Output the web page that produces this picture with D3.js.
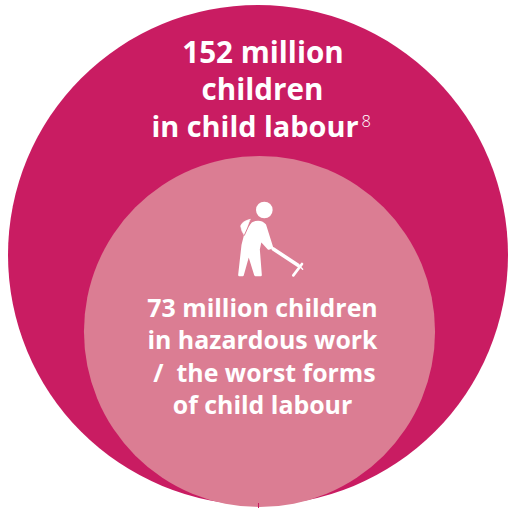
<!DOCTYPE html>
<html><head><meta charset="utf-8"><script src="https://cdn.jsdelivr.net/npm/d3@7"></script>
<style>html,body{margin:0;padding:0;background:#fff}svg{display:block}</style></head><body>
<script>
const groups=["Child labour","Hazardous work"];
const values=[152,73];
const outerLines=["152 million","children","in child labour"];
const innerLines=["73 million children","in hazardous work","/\u00a0\u00a0the worst forms","of child labour"];
const footnote="8";
const svg=d3.select("body").append("svg").attr("width",508).attr("height",508);
const r=d3.scalePow().exponent(0.482).domain([0,152]).range([0,250]);
const colours=d3.scaleOrdinal().domain(groups).range(["#c91c62","#db7d93"]);
svg.append("circle").attr("cx",258).attr("cy",255).attr("r",r(values[0])).attr("fill",colours(groups[0]));
svg.append("circle").attr("cx",259.5).attr("cy",331.5).attr("r",r(values[1])).attr("fill",colours(groups[1]));
svg.append("line").attr("x1",258.5).attr("x2",258.5).attr("y1",503).attr("y2",508).attr("stroke",colours(groups[0])).attr("stroke-width",1);
const font="'Open Sans',sans-serif";
const ty=d3.scalePoint().domain(d3.range(3)).range([63,137]);
const ox=[263,262.5,255];
svg.selectAll(".o").data(outerLines).join("text").attr("x",(d,i)=>ox[i]).attr("y",(d,i)=>ty(i)).attr("text-anchor","middle")
 .attr("font-family",font).attr("font-weight",700).attr("font-size",(d,i)=>i==2?28.9:29.6).attr("fill","#fff").text(d=>d);
svg.append("text").attr("x",361.5).attr("y",127).attr("font-family",font).attr("font-size",16.5).attr("font-weight",300).attr("fill","#fff").text(footnote);
const iy=d3.scalePoint().domain(d3.range(4)).range([317,414]);
const ix=[262.5,262.5,264.5,262.5];
svg.selectAll(".i").data(innerLines).join("text").attr("x",(d,i)=>ix[i]).attr("y",(d,i)=>iy(i)).attr("text-anchor","middle")
 .attr("font-family",font).attr("font-weight",700).attr("font-size",24.9).attr("fill","#fff").text(d=>d);
const ic=svg.append("g").attr("transform","translate(210,190) scale(0.3333)").attr("fill","#fff").attr("stroke","#fff").attr("stroke-linecap","round").attr("stroke-linejoin","round");
ic.append("circle").attr("cx",163).attr("cy",60).attr("r",25).attr("stroke","none");
ic.append("path").attr("d","M120 88Q96 94 92 108Q94 124 104 138L116 100Z").attr("stroke-width",2);
ic.append("path").attr("d","M128 100Q150 90 165 105L186 172L176 176L152 150L146 178L152 255L136 255L116 190L98 255L88 255L98 165L108 125Z").attr("stroke-width",7);
ic.append("path").attr("d","M125 88L103 136").attr("stroke","#db7d93").attr("stroke-width",3).attr("fill","none");
ic.append("path").attr("d","M190 177L264 226").attr("stroke-width",11).attr("fill","none");
ic.append("path").attr("d","M250 256L276 222").attr("stroke-width",8).attr("fill","none");
ic.append("path").attr("d","M266 226L278 238").attr("stroke-width",4).attr("fill","none");
</script></body></html>
